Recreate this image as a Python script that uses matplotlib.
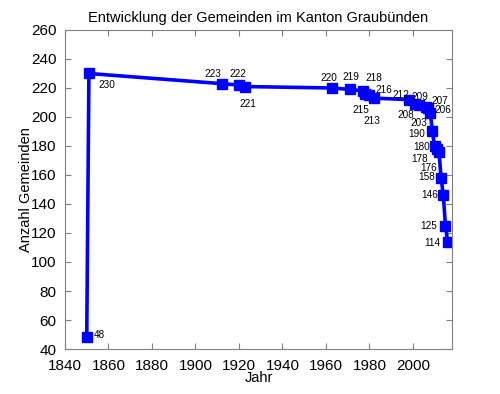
import matplotlib.pyplot as plt

# data
years = [1850, 1851, 1912, 1920, 1923, 1963, 1971, 1977, 1978, 1980, 1982,
         1998, 2001, 2003, 2006, 2007, 2008, 2009, 2010, 2011, 2012, 2013,
         2014, 2015, 2016]
counts = [48, 230, 223, 222, 221, 220, 219, 218, 216, 215, 213,
          212, 209, 208, 207, 206, 203, 190, 180, 178, 176, 158,
          146, 125, 114]
# label offsets in pixels (dx right, dy down)
offsets = [(13, -2), (18, 12), (-9, -10), (-1, -11), (2, 17), (-4, -10),
           (1, -12), (11, -13), (19, -4), (-9, 15), (-2, 23),
           (-8, -5), (5, -7), (-14, 10), (14, -6), (15, 2), (-11, 10),
           (-16, 3), (-13, 1), (-17, 10), (-10, 16), (-14, -1),
           (-14, 0), (-17, 0), (-15, 1)]

plt.rcParams['font.family'] = ['Liberation Sans', 'DejaVu Sans']

fig = plt.figure(figsize=(5, 3.94), dpi=100)
ax = fig.add_axes([0.13, 0.1142, 0.774, 0.8097])

ax.plot(years, counts, '-s', color='#0000ff', lw=2.6, ms=6.8)
for yr, c, (dx, dy) in zip(years, counts, offsets):
    ax.annotate(str(c), (yr, c), xytext=(dx * 0.72, -dy * 0.72),
                textcoords='offset points', ha='center', va='center', fontsize=7.2)

ax.set_xlim(1840, 2018)
ax.set_ylim(40, 260)
ax.set_xticks(range(1840, 2001, 20))
ax.set_yticks(range(40, 261, 20))
ax.tick_params(direction='in', top=True, right=True, labelsize=11, length=4,
               color='#808080')
ax.tick_params(axis='x', pad=7)
ax.tick_params(axis='y', pad=6)
for s in ax.spines.values():
    s.set_color('#808080')
ax.set_title('Entwicklung der Gemeinden im Kanton Graubünden', fontsize=10.5, pad=6)
ax.set_xlabel('Jahr', fontsize=10.5, labelpad=-1)
ax.set_ylabel('Anzahl Gemeinden', fontsize=10.5, va='center')
ax.yaxis.set_label_coords(-0.102, 0.5)

fig.savefig('out.png', dpi=100)
